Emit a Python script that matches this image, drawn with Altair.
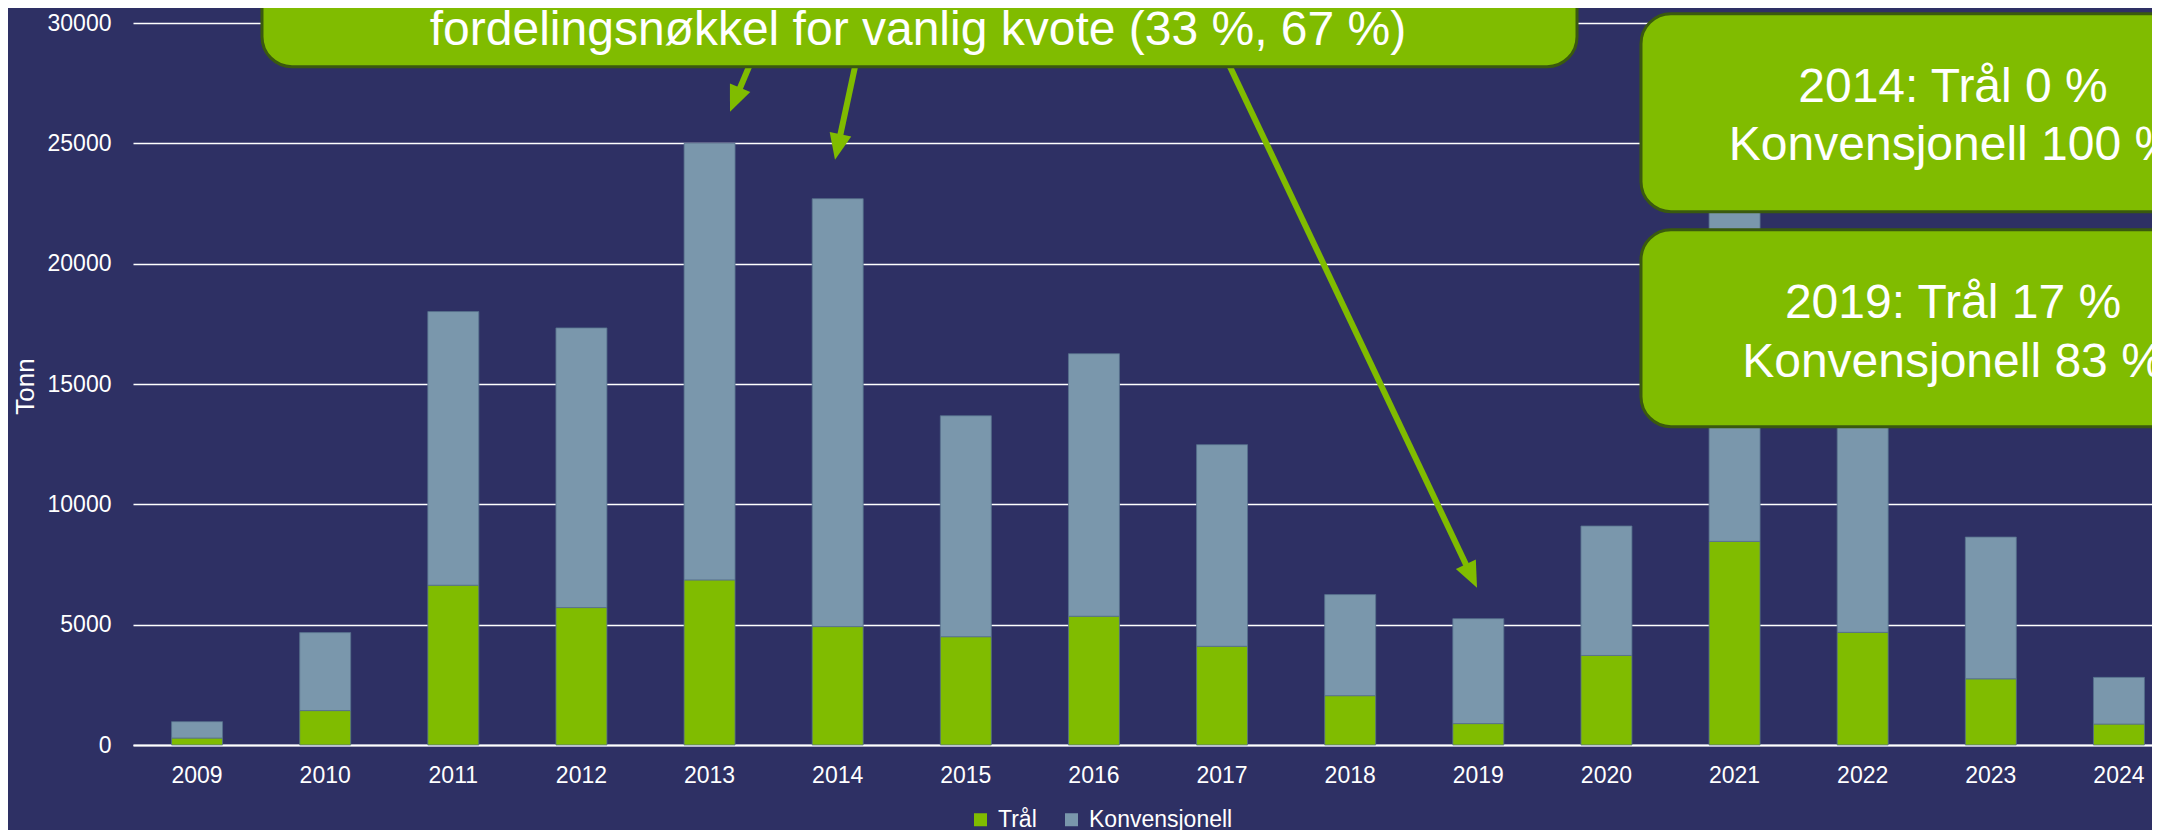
import math
import altair as alt
import pandas as pd

# ---------------- data ----------------
years = ["2009", "2010", "2011", "2012", "2013", "2014", "2015", "2016",
         "2017", "2018", "2019", "2020", "2021", "2022", "2023", "2024"]
tral = [290, 1430, 6640, 5710, 6860, 4920, 4500, 5350,
        4100, 2050, 890, 3720, 8460, 4680, 2750, 870]
konv = [680, 3240, 11370, 11620, 18140, 17780, 9180, 10910,
        8380, 4200, 4360, 5380, 15540, 11320, 5890, 1940]
series_names = ["Trål", "Konvensjonell"]
series_colors = ["#80BC00", "#7A97AC"]
y_ticks = [0, 5000, 10000, 15000, 20000, 25000, 30000]

top_note = "fordelingsnøkkel for vanlig kvote (33 %, 67 %)"
box2_lines = ["2014: Trål 0 %", "Konvensjonell 100 %"]
box3_lines = ["2019: Trål 17 %", "Konvensjonell 83 %"]

rows = []
for i, yr in enumerate(years):
    rows.append({"year": yr, "serie": series_names[0], "value": tral[i], "ord": 0})
    rows.append({"year": yr, "serie": series_names[1], "value": konv[i], "ord": 1})
df = pd.DataFrame(rows)

# ---------------- styling / layout ----------------
BG = "#2E3064"
GREEN = "#80BC00"
DARKGREEN = "#3A5A0E"
FONT = "Arial"
OX, OY = 133.0, 23.3          # page position of plot origin
W, H = 2019, 722
BAND_RANGE = [0, 2050]


def px(x):
    return x - OX


def py(y):
    return y - OY


bars = alt.Chart(df).mark_bar(size=51, stroke="#56708C", strokeWidth=1, strokeOpacity=0.8).encode(
    x=alt.X("year:N", sort=years,
            scale=alt.Scale(range=BAND_RANGE, paddingInner=0, paddingOuter=0),
            axis=alt.Axis(title=None, labelAngle=0, labelFontSize=23, labelColor="white",
                          labelFont=FONT, labelPadding=19, ticks=False, domain=True,
                          domainColor="white", domainWidth=2, grid=False)),
    y=alt.Y("value:Q", stack="zero",
            scale=alt.Scale(domain=[0, 30000], nice=False),
            axis=alt.Axis(title="Tonn", values=y_ticks, format="d", labelFontSize=23,
                          labelColor="white", labelFont=FONT, labelPadding=22,
                          ticks=False, domain=False, grid=True, gridColor="white",
                          gridWidth=1.6, titleFontSize=26, titleColor="white",
                          titleFont=FONT, titleFontWeight="normal", titleAngle=270,
                          titleX=-100, titleY=363, titleAlign="center",
                          titleBaseline="alphabetic")),
    color=alt.Color("serie:N",
                    scale=alt.Scale(domain=series_names, range=series_colors),
                    legend=alt.Legend(orient="none", legendX=836, legendY=785,
                                      direction="horizontal", title=None,
                                      symbolType="square", symbolSize=169,
                                      symbolStrokeWidth=0, labelFontSize=23,
                                      labelColor="white", labelFont=FONT,
                                      columnPadding=23, labelOffset=6, padding=0)),
    order=alt.Order("ord:Q"),
)

one = pd.DataFrame({"a": [0]})

# arrows: (start page x, start page y, tip page x, tip page y)
arrow_defs = [(749, 67, 730, 112), (855, 67, 835, 160), (1230, 67, 1477, 588)]
HEAD = 26
layers = [bars]
for sx, sy, tx, ty in arrow_defs:
    dx, dy = tx - sx, ty - sy
    n = math.hypot(dx, dy)
    ux, uy = dx / n, dy / n
    cx, cy = tx - ux * HEAD / 2, ty - uy * HEAD / 2
    ang = math.degrees(math.atan2(ux, -uy)) % 360
    layers.append(
        alt.Chart(one).mark_rule(color=GREEN, strokeWidth=6, strokeCap="butt").encode(
            x=alt.value(px(sx - ux * 10)), y=alt.value(py(sy - uy * 10)),
            x2=alt.value(px(cx)), y2=alt.value(py(cy)))
    )
    layers.append(
        alt.Chart(one).mark_point(shape="M0,-1L0.85,1L-0.85,1Z", size=HEAD * HEAD,
                                  filled=True, fill=GREEN, opacity=1, strokeWidth=0,
                                  angle=ang).encode(
            x=alt.value(px(cx)), y=alt.value(py(cy)))
    )

# boxes: (x1, y1, x2, y2) in page coords
box_defs = [(262, -80, 1577, 67), (1641, 14, 2300, 212), (1641, 230, 2300, 427)]
for x1, y1, x2, y2 in box_defs:
    layers.append(
        alt.Chart(one).mark_rect(fill=GREEN, stroke=DARKGREEN, strokeWidth=3,
                                 cornerRadius=30).encode(
            x=alt.value(px(x1)), x2=alt.value(px(x2)),
            y=alt.value(py(y1)), y2=alt.value(py(y2)))
    )

# texts: (text, page x center, page baseline y)
text_defs = [(top_note, 918, 45),
             (box2_lines[0], 1953, 102), (box2_lines[1], 1953, 160),
             (box3_lines[0], 1953, 318), (box3_lines[1], 1953, 377)]
for t, x, y in text_defs:
    layers.append(
        alt.Chart(one).mark_text(text=t, font=FONT, fontSize=48, color="white",
                                 align="center", baseline="alphabetic").encode(
            x=alt.value(px(x)), y=alt.value(py(y)))
    )

chart = alt.layer(*layers).properties(
    width=W, height=H,
    background=BG,
    padding={"left": 125, "top": 15, "right": 0, "bottom": 85},
    autosize=alt.AutoSizeParams(type="none"),
).configure_view(stroke=None)

chart.save("out.html", embed_options={"renderer": "svg", "actions": False})
